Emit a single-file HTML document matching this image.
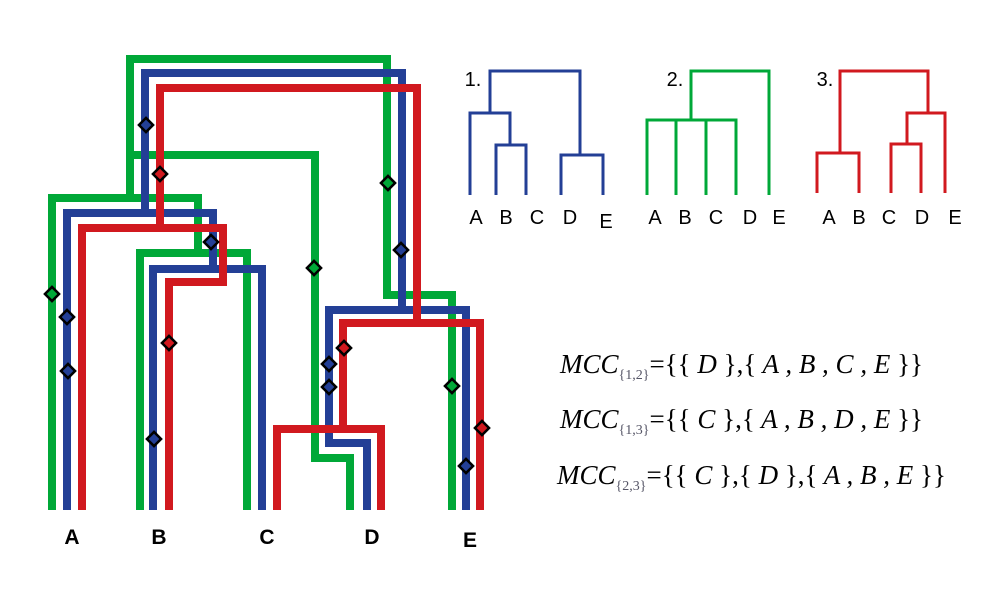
<!DOCTYPE html>
<html><head><meta charset="utf-8"><style>html,body{margin:0;padding:0;background:#fff}svg{display:block}</style></head>
<body>
<svg width="1005" height="611" viewBox="0 0 1005 611" xmlns="http://www.w3.org/2000/svg">
<rect width="1005" height="611" fill="#fff"/>
<g fill="none" stroke-width="8" stroke-linejoin="miter" stroke-linecap="butt">
<!-- green -->
<g stroke="#00a838">
<polyline points="130,195 130,59 387,59 387,295 452,295 452,510"/>
<polyline points="130,155 315,155 315,458 350,458 350,510"/>
<polyline points="52,510 52,198 198,198 198,253"/>
<polyline points="140,510 140,253 247,253 247,510"/>
</g>
<!-- blue -->
<g stroke="#233f96">
<polyline points="145,213 145,73 402,73 402,310"/>
<polyline points="67,510 67,213 213,213 213,269"/>
<polyline points="153,510 153,269 262,269 262,510"/>
<polyline points="466,510 466,310 329,310 329,443 367,443 367,510"/>
</g>
<!-- red -->
<g stroke="#d1191f">
<polyline points="160,228 160,88 417,88 417,323"/>
<polyline points="82,510 82,228 223,228 223,282 169,282 169,510"/>
<polyline points="480,510 480,323 343,323 343,429"/>
<polyline points="277,510 277,429 381,429 381,510"/>
</g>
</g>
<!-- diamonds -->
<g stroke="#000" stroke-width="2.5">
<g fill="#233f96">
<rect x="-5" y="-5" width="10" height="10" transform="translate(146,125) rotate(45)"/>
<rect x="-5" y="-5" width="10" height="10" transform="translate(211,242) rotate(45)"/>
<rect x="-5" y="-5" width="10" height="10" transform="translate(401,250) rotate(45)"/>
<rect x="-5" y="-5" width="10" height="10" transform="translate(67,317) rotate(45)"/>
<rect x="-5" y="-5" width="10" height="10" transform="translate(68,371) rotate(45)"/>
<rect x="-5" y="-5" width="10" height="10" transform="translate(154,439) rotate(45)"/>
<rect x="-5" y="-5" width="10" height="10" transform="translate(329,364) rotate(45)"/>
<rect x="-5" y="-5" width="10" height="10" transform="translate(329,387) rotate(45)"/>
<rect x="-5" y="-5" width="10" height="10" transform="translate(466,466) rotate(45)"/>
</g>
<g fill="#d1191f">
<rect x="-5" y="-5" width="10" height="10" transform="translate(160,174) rotate(45)"/>
<rect x="-5" y="-5" width="10" height="10" transform="translate(169,343) rotate(45)"/>
<rect x="-5" y="-5" width="10" height="10" transform="translate(344,348) rotate(45)"/>
<rect x="-5" y="-5" width="10" height="10" transform="translate(482,428) rotate(45)"/>
</g>
<g fill="#00a838">
<rect x="-5" y="-5" width="10" height="10" transform="translate(388,183) rotate(45)"/>
<rect x="-5" y="-5" width="10" height="10" transform="translate(314,268) rotate(45)"/>
<rect x="-5" y="-5" width="10" height="10" transform="translate(52,294) rotate(45)"/>
<rect x="-5" y="-5" width="10" height="10" transform="translate(452,386) rotate(45)"/>
</g>
</g>
<g font-family="Liberation Sans, sans-serif" font-weight="bold" font-size="21" text-anchor="middle" fill="#000">
<text x="72" y="544">A</text><text x="159" y="544">B</text><text x="267" y="544">C</text><text x="372" y="544">D</text><text x="470" y="547">E</text>
</g>
<!-- small trees -->
<g fill="none" stroke-width="3">
<g stroke="#233f96">
<polyline points="490,113 490,71 580,71 580,155"/>
<polyline points="470,195 470,113 510,113 510,145"/>
<polyline points="496,195 496,145 526,145 526,195"/>
<polyline points="561,195 561,155 603,155 603,195"/>
</g>
<g stroke="#00a838">
<polyline points="691,120 691,71 769,71 769,195"/>
<polyline points="647,195 647,120 736,120 736,195"/>
<line x1="676" y1="120" x2="676" y2="195"/><line x1="706" y1="120" x2="706" y2="195"/>
</g>
<g stroke="#d1191f">
<polyline points="840,153 840,71 928,71 928,113"/>
<polyline points="817,193 817,153 859,153 859,193"/>
<polyline points="907,144 907,113 945,113 945,193"/>
<polyline points="891,193 891,144 921,144 921,193"/>
</g>
</g>
<g font-family="Liberation Sans, sans-serif" font-size="20" text-anchor="middle" fill="#000">
<text x="473" y="86">1.</text><text x="675" y="86">2.</text><text x="825" y="86">3.</text>
<text x="476" y="224">A</text><text x="506" y="224">B</text><text x="537" y="224">C</text><text x="570" y="224">D</text><text x="606" y="228">E</text>
<text x="655" y="224">A</text><text x="685" y="224">B</text><text x="716" y="224">C</text><text x="750" y="224">D</text><text x="779" y="224">E</text>
<text x="829" y="224">A</text><text x="859" y="224">B</text><text x="889" y="224">C</text><text x="922" y="224">D</text><text x="955" y="224">E</text>
</g>
<g font-family="Liberation Serif, serif" font-size="27" fill="#000">
<text x="560" y="373"><tspan font-style="italic">MCC</tspan><tspan font-size="14" dy="6" fill="#556">{1,2}</tspan><tspan dy="-6">={{</tspan><tspan font-style="italic"> D </tspan><tspan>},{</tspan><tspan font-style="italic"> A , B , C , E </tspan><tspan>}}</tspan></text>
<text x="560" y="428"><tspan font-style="italic">MCC</tspan><tspan font-size="14" dy="6" fill="#556">{1,3}</tspan><tspan dy="-6">={{</tspan><tspan font-style="italic"> C </tspan><tspan>},{</tspan><tspan font-style="italic"> A , B , D , E </tspan><tspan>}}</tspan></text>
<text x="557" y="484"><tspan font-style="italic">MCC</tspan><tspan font-size="14" dy="6" fill="#556">{2,3}</tspan><tspan dy="-6">={{</tspan><tspan font-style="italic"> C </tspan><tspan>},{</tspan><tspan font-style="italic"> D </tspan><tspan>},{</tspan><tspan font-style="italic"> A , B , E </tspan><tspan>}}</tspan></text>
</g>
</svg>
</body></html>
